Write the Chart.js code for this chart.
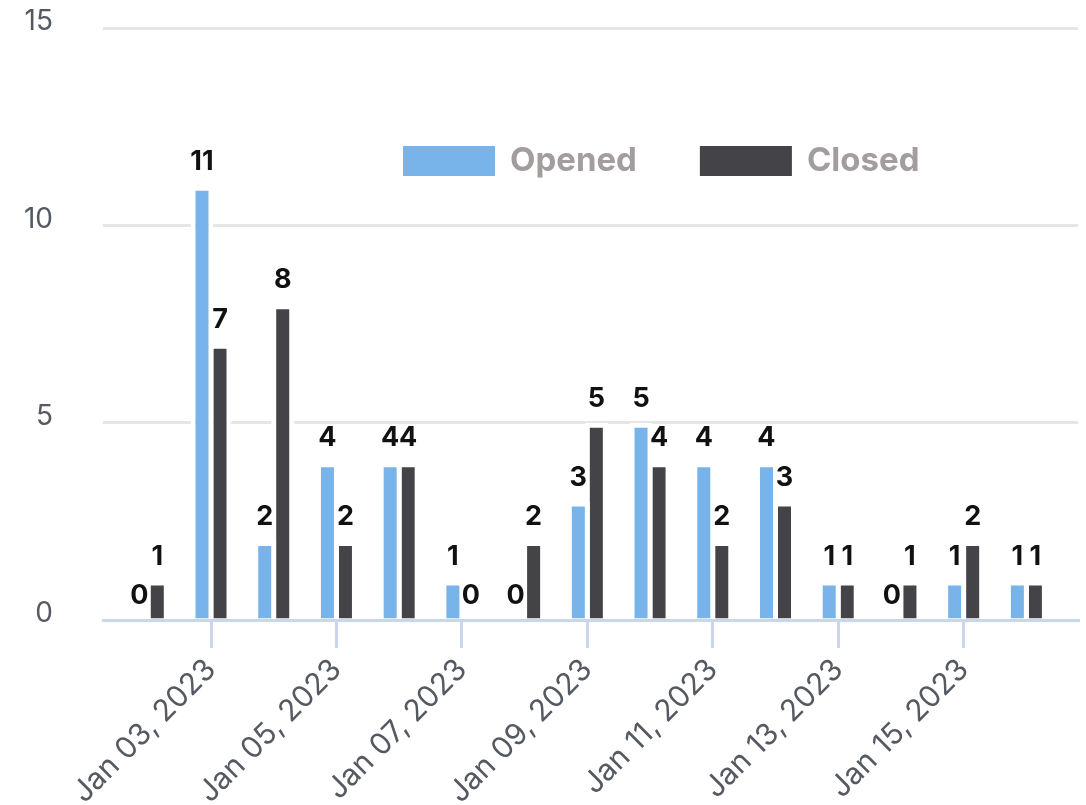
<!DOCTYPE html>
<html lang="en">
<head>
    <meta charset="UTF-8">
    <title>Opened vs Closed</title>
    <script src="https://cdn.jsdelivr.net/npm/chart.js"></script>
    <style>
        body { margin: 0; background: #fff; }
        #wrap { width: 1086px; height: 805px; }
    </style>
</head>
<body>
    <div id="wrap">
        <canvas id="ticketChart"></canvas>
    </div>

    <script>
        // Day of month for each bar group (January 2023)
        const days = [2, 3, 4, 5, 6, 7, 8, 9, 10, 11, 12, 13, 14, 15, 16];
        const opened = [0, 11, 2, 4, 4, 1, 0, 3, 5, 4, 4, 1, 0, 1, 1];
        const closed = [1, 7, 8, 2, 4, 0, 2, 5, 4, 2, 3, 1, 1, 2, 1];

        // Only every other day gets a label on the x axis
        const tickDays = [3, 5, 7, 9, 11, 13, 15];
        const tickLabels = ['Jan 03, 2023', 'Jan 05, 2023', 'Jan 07, 2023', 'Jan 09, 2023',
                            'Jan 11, 2023', 'Jan 13, 2023', 'Jan 15, 2023'];
        const yTicks = [0, 5, 10, 15];

        const FONT = 'Inter, "Noto Sans", sans-serif';
        const AXIS_TEXT = '#555a62';

        // numbers above each bar
        const valueLabels = {
            id: 'valueLabels',
            afterDatasetsDraw(chart) {
                const ctx = chart.ctx;
                ctx.save();
                ctx.font = 'bold 27px ' + FONT;
                ctx.fillStyle = '#111';
                ctx.textAlign = 'center';
                ctx.textBaseline = 'alphabetic';
                chart.data.datasets.forEach((ds, i) => {
                    chart.getDatasetMeta(i).data.forEach((bar, j) => {
                        ctx.fillText(String(ds.data[j].y), bar.x, bar.y - 16);
                    });
                });
                ctx.restore();
            }
        };

        // legend sits inside the plot, under the top gridline
        const innerLegend = {
            id: 'innerLegend',
            afterDraw(chart) {
                const ctx = chart.ctx;
                ctx.save();
                ctx.font = 'bold 33px ' + FONT;
                ctx.textBaseline = 'alphabetic';
                let x = 403;
                chart.data.datasets.forEach(ds => {
                    ctx.fillStyle = ds.backgroundColor;
                    ctx.fillRect(x, 146, 92, 30);
                    ctx.fillStyle = '#a39d9d';
                    ctx.fillText(ds.label, x + 107, 171);
                    x += 107 + ctx.measureText(ds.label).width + 63;
                });
                ctx.restore();
            }
        };

        const barStyle = {
            borderColor: '#ffffff',
            borderWidth: 5,
            categoryPercentage: 0.574,
            barPercentage: 1.278
        };

        const ctx = document.getElementById('ticketChart').getContext('2d');
        new Chart(ctx, {
            type: 'bar',
            data: {
                datasets: [
                    Object.assign({
                        label: 'Opened',
                        data: days.map((d, i) => ({ x: d, y: opened[i] })),
                        backgroundColor: '#78b4ea'
                    }, barStyle),
                    Object.assign({
                        label: 'Closed',
                        data: days.map((d, i) => ({ x: d, y: closed[i] })),
                        backgroundColor: '#434348'
                    }, barStyle)
                ]
            },
            options: {
                responsive: true,
                maintainAspectRatio: false,
                animation: false,
                layout: { padding: { top: 28, right: 8, left: 0, bottom: 0 } },
                plugins: {
                    legend: { display: false },
                    tooltip: { enabled: false }
                },
                scales: {
                    x: {
                        type: 'linear',
                        offset: false,
                        min: 1.278,
                        max: 16.823,
                        afterBuildTicks: scale => {
                            scale.ticks = tickDays.map(v => ({ value: v }));
                        },
                        afterFit: scale => {
                            scale.height = 185;
                            scale.paddingLeft = 0;
                            scale.paddingRight = 0;
                        },
                        ticks: {
                            autoSkip: false,
                            minRotation: 45,
                            maxRotation: 45,
                            padding: 4,
                            color: AXIS_TEXT,
                            font: { family: FONT, size: 30 },
                            callback: (value, index) => tickLabels[index]
                        },
                        grid: {
                            offset: false,
                            drawOnChartArea: false,
                            color: '#c9d6ec',
                            lineWidth: 3,
                            tickLength: 28
                        },
                        border: { color: '#c9d6ec', width: 3 }
                    },
                    y: {
                        min: 0,
                        max: 15,
                        afterBuildTicks: scale => {
                            scale.ticks = yTicks.map(v => ({ value: v }));
                        },
                        afterFit: scale => {
                            scale.width = 103;
                            scale.paddingTop = 0;
                            scale.paddingBottom = 0;
                        },
                        ticks: {
                            padding: 50,
                            labelOffset: -6,
                            color: AXIS_TEXT,
                            font: { family: FONT, size: 28 }
                        },
                        grid: {
                            color: '#e6e6e6',
                            lineWidth: 3,
                            drawTicks: false
                        },
                        border: { display: false }
                    }
                }
            },
            plugins: [valueLabels, innerLegend]
        });
    </script>
</body>
</html>
